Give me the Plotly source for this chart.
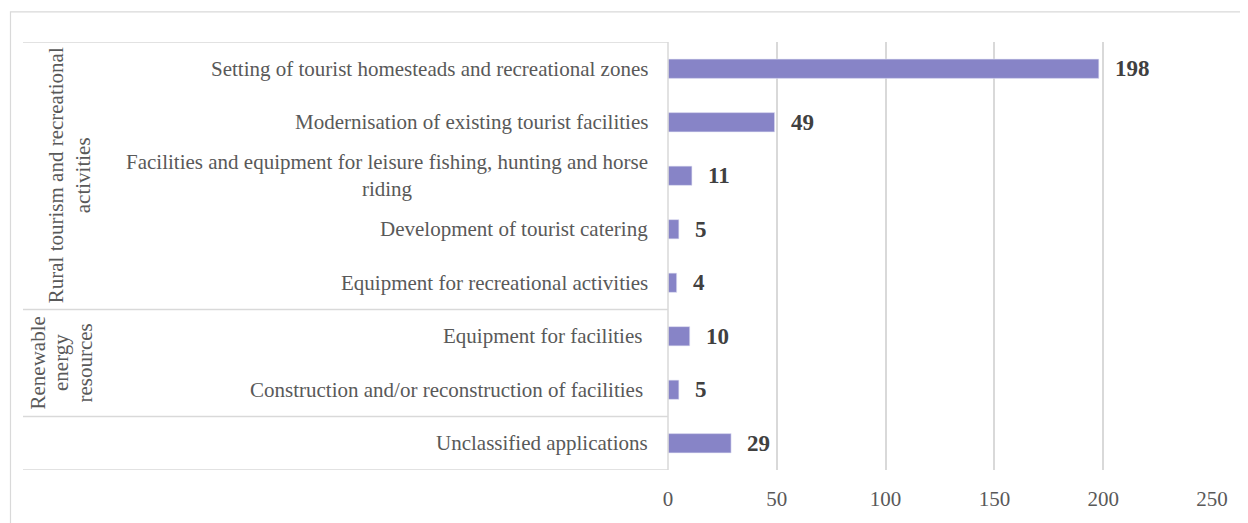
import plotly.graph_objects as go

# ---- data ----
categories = [
    "Setting of tourist homesteads and recreational zones",
    "Modernisation of existing tourist facilities",
    "Facilities and equipment for leisure fishing, hunting and horse<br>riding",
    "Development of tourist catering",
    "Equipment for recreational activities",
    "Equipment for facilities\u00a0",
    "Construction and/or reconstruction of facilities\u00a0",
    "Unclassified applications",
]
values = [198, 49, 11, 5, 4, 10, 5, 29]
groups = ["Rural tourism and recreational<br>activities", "Renewable<br>energy<br>resources", ""]
group_sizes = [5, 2, 1]
x_ticks = [0, 50, 100, 150, 200, 250]

# ---- style / layout ----
OFF = 8  # page body margin
W, H = 1248 - OFF, 523 - OFF
ML, MR, MT, MB = 668 - OFF, 36, 42 - OFF, 47
PW, PH = W - ML - MR, H - MT - MB
FONT = "Liberation Serif"
GRID = "#d9d9d9"
TXT = "#595959"
BAR = "#8784c7"


def px_x(p):
    return (p - OFF - ML) / PW


def px_y(p):
    return (H - MB - (p - OFF)) / PH


fig = go.Figure(
    go.Bar(
        x=values,
        y=categories,
        orientation="h",
        width=0.36,
        marker=dict(color=BAR, line=dict(color="#e6e6f5", width=0.6)),
        hoverinfo="x+y",
    )
)

n = len(categories)
annotations = []
# category labels
for c in categories:
    annotations.append(dict(
        x=0, y=c, xref="x", yref="y", text=c, showarrow=False,
        xanchor="right", align="center", xshift=-18,
        font=dict(family=FONT, size=21, color=TXT),
    ))
# value labels
for c, v in zip(categories, values):
    annotations.append(dict(
        x=v, y=c, xref="x", yref="y", text=f"<b>{v}</b>", showarrow=False,
        xanchor="left", xshift=14,
        font=dict(family=FONT, size=23, color="#404040"),
    ))

shapes = []
# table separators
start = 0
bounds = [-0.5]
for g, s in zip(groups, group_sizes):
    bounds.append(start + s - 0.5)
    start += s
for b in bounds:
    shapes.append(dict(type="line", xref="paper", yref="y", x0=px_x(23), x1=0,
                       y0=b, y1=b, line=dict(color=GRID, width=1.5)))
# axis line
shapes.append(dict(type="line", xref="paper", yref="y", x0=0, x1=0, y0=-0.5, y1=n - 0.5,
                   line=dict(color=GRID, width=1.5)))
# outer border
shapes.append(dict(type="rect", xref="paper", yref="paper", x0=px_x(10.5), x1=px_x(1270),
                   y0=px_y(545), y1=px_y(11.5), line=dict(color=GRID, width=1.2),
                   layer="below"))

# group labels (rotated), one annotation per line
group_center_px = [69, 61, 60]
group_line_gap = [27, 23.5, 0]
start = 0
for g, s, gx, gap in zip(groups, group_sizes, group_center_px, group_line_gap):
    if g:
        lines = g.split("<br>")
        m = len(lines)
        for k, line in enumerate(lines):
            cx = gx + (k - (m - 1) / 2) * gap
            annotations.append(dict(
                x=px_x(cx), y=start + (s - 1) / 2, xref="paper", yref="y", text=line,
                showarrow=False, textangle=-90, xanchor="center", yanchor="middle",
                align="center", font=dict(family=FONT, size=21, color=TXT),
            ))
    start += s

fig.update_layout(
    width=W, height=H,
    margin=dict(l=ML, r=MR, t=MT, b=MB),
    paper_bgcolor="white", plot_bgcolor="white",
    showlegend=False,
    font=dict(family=FONT, size=21, color=TXT),
    xaxis=dict(
        range=[0, 250], tickvals=x_ticks, showgrid=True, gridcolor=GRID, gridwidth=1.5,
        zeroline=False, showline=False, ticks="",
        tickfont=dict(family=FONT, size=21, color=TXT), ticklabelstandoff=14,
        fixedrange=True,
    ),
    yaxis=dict(
        categoryorder="array", categoryarray=categories, range=[n - 0.5, -0.5],
        showticklabels=False, showgrid=False, zeroline=False, showline=False, ticks="",
        fixedrange=True,
    ),
    annotations=annotations,
    shapes=shapes,
)

fig.write_html("out.html")
